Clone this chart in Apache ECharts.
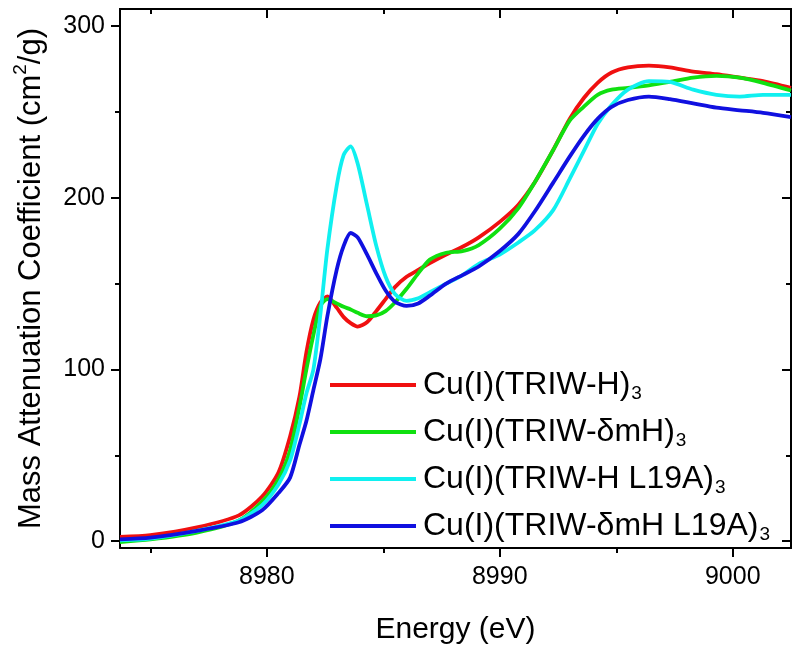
<!DOCTYPE html>
<html>
<head>
<meta charset="utf-8">
<script src="https://cdn.jsdelivr.net/npm/echarts@6/dist/echarts.min.js"></script>
<style>html,body{margin:0;padding:0;background:#fff}#c{width:800px;height:656px}</style>
</head>
<body>
<div id="c"></div>
<script>
var energy = [8973.7, 8975, 8977, 8978.8, 8979.8, 8980.5, 8981, 8981.4, 8981.7, 8982, 8982.3, 8982.6, 8983, 8983.3, 8983.6, 8983.9, 8984.3, 8984.7, 8985.1, 8985.5, 8986, 8986.5, 8987, 8987.7, 8988.4, 8989.1, 8990, 8990.8, 8991.5, 8992.3, 8993, 8993.6, 8994.2, 8994.8, 8995.5, 8996.4, 8997.3, 8998.3, 8999.3, 9000.3, 9001.3, 9002.5];
var triwH = [2.5, 3.5, 8, 15, 26, 40, 61, 84, 110, 129, 139, 142.5, 136, 130.5, 127, 125, 127.5, 134, 141, 148, 154, 158, 162, 167, 171.5, 177, 186, 196, 209, 228, 246, 258, 267, 273, 276, 277, 276, 273.5, 272, 270, 268, 264];
var triwDmH = [-0.5, 1, 5, 12, 23, 36, 53, 78, 100, 120, 137, 141, 138.5, 136.5, 135, 133, 131, 131.5, 134, 139, 147, 156, 164, 168, 169, 172.5, 182, 194, 209, 228, 245, 253, 260, 263, 264, 265.5, 267.5, 270, 271, 270, 267, 262.5];
var triwHL19A = [0.5, 1.5, 6, 12, 21, 33, 47, 68, 86, 100, 132, 170, 207, 225, 230, 220, 196, 172, 154, 144, 140, 141.5, 145, 150, 155, 161.5, 167, 174, 181, 193, 211, 227, 243, 254, 263, 268, 267.5, 263, 260, 259, 260, 260];
var triwDmHL19A = [1, 2, 6, 11, 18, 28, 37, 56, 70, 88, 106, 131, 158, 172, 179.5, 177, 167, 156, 146, 139.5, 137, 138.5, 143, 150, 155, 160, 169, 179, 192, 209, 224, 236, 246, 253, 257, 259, 257.5, 255, 252.5, 251, 249.5, 247];

var seriesNames = ['Cu(I)(TRIW-H)3', 'Cu(I)(TRIW-δmH)3', 'Cu(I)(TRIW-H L19A)3', 'Cu(I)(TRIW-δmH L19A)3'];
var legendMain = ['Cu(I)(TRIW-H)', 'Cu(I)(TRIW-δmH)', 'Cu(I)(TRIW-H L19A)', 'Cu(I)(TRIW-δmH L19A)'];
var seriesColors = ['#f01010', '#10e010', '#10f0f0', '#1010e0'];
var seriesValues = [triwH, triwDmH, triwHL19A, triwDmHL19A];

var xMajor = [8980, 8990, 9000];
var xMinor = [8975, 8985, 8995];
var yMajor = [0, 100, 200, 300];
var yMinor = [50, 150, 250];
var xMin = 8973.7, xMax = 9002.5, yMin = -4, yMax = 310;

var font = 'Liberation Sans, Arial, sans-serif';

function pairs(vals) {
  return energy.map(function (e, i) { return [e, vals[i]]; });
}
function plain(v) { return String(v); }

function xAx(pos, ticks, len, inside, labels) {
  return {
    type: 'value', position: pos, min: xMin, max: xMax,
    axisLine: { show: !!labels || pos === 'top', onZero: false, lineStyle: { color: '#000', width: 2 } },
    axisTick: { show: true, inside: inside, length: len, customValues: ticks, lineStyle: { color: '#000', width: 2 } },
    axisLabel: labels ? { show: true, customValues: labels, formatter: plain, fontSize: 25, color: '#000', fontFamily: font, margin: 17 } : { show: false },
    splitLine: { show: false }
  };
}
function yAx(pos, ticks, len, inside, labels) {
  return {
    type: 'value', position: pos, min: yMin, max: yMax,
    axisLine: { show: !!labels || pos === 'right', onZero: false, lineStyle: { color: '#000', width: 2 } },
    axisTick: { show: true, inside: inside, length: len, customValues: ticks, lineStyle: { color: '#000', width: 2 } },
    axisLabel: labels ? { show: true, customValues: labels, formatter: plain, fontSize: 25, color: '#000', fontFamily: font, margin: 15 } : { show: false },
    splitLine: { show: false }
  };
}

var xAxes = [
  xAx('bottom', xMajor, 9, false, xMajor),
  xAx('bottom', xMinor, 5, false, null),
  xAx('top', xMajor, 9, true, null),
  xAx('top', xMinor, 5, true, null)
];
xAxes[0].name = 'Energy (eV)';
xAxes[0].nameLocation = 'middle';
xAxes[0].nameGap = 64;
xAxes[0].nameTextStyle = { fontSize: 30, lineHeight: 36, color: '#000', fontFamily: font };

var yAxes = [
  yAx('left', yMajor, 9, false, yMajor),
  yAx('left', yMinor, 5, false, null),
  yAx('right', yMajor, 9, true, null),
  yAx('right', yMinor, 5, true, null)
];
yAxes[0].name = '{t|Mass Attenuation Coefficient (cm}{s|2}{t|/g)}';
yAxes[0].nameLocation = 'middle';
yAxes[0].nameGap = 73;
yAxes[0].nameTextStyle = {
  color: '#000', fontFamily: font,
  rich: {
    t: { fontSize: 31, color: '#000', fontFamily: font, lineHeight: 36, verticalAlign: 'bottom' },
    s: { fontSize: 19, color: '#000', fontFamily: font, lineHeight: 36, verticalAlign: 'top', padding: [0, 0, 10, 0] }
  }
};

var series = seriesNames.map(function (n, i) {
  return {
    name: n, type: 'line', xAxisIndex: 0, yAxisIndex: 0,
    data: pairs(seriesValues[i]), showSymbol: false, smooth: 0.25,
    lineStyle: { color: seriesColors[i], width: 3.8 }, itemStyle: { color: seriesColors[i] },
    animation: false
  };
});

var chart = echarts.init(document.getElementById('c'), null, { renderer: 'canvas' });
chart.setOption({
  backgroundColor: '#fff',
  animation: false,
  grid: { left: 120, right: 9, top: 9, bottom: 108, containLabel: false },
  xAxis: xAxes,
  yAxis: yAxes,
  legend: {
    orient: 'vertical', left: 330, top: 366, icon: 'rect',
    itemWidth: 86, itemHeight: 4, itemGap: 10, padding: 0,
    data: seriesNames,
    formatter: function (name) {
      var i = seriesNames.indexOf(name);
      return '{n|' + legendMain[i] + '}{s|3}';
    },
    textStyle: {
      color: '#000', fontFamily: font, fontSize: 32,
      rich: {
        n: { fontSize: 32, color: '#000', fontFamily: font, lineHeight: 36, padding: [0, 0, 0, 2] },
        s: { fontSize: 19, color: '#000', fontFamily: font, lineHeight: 19, verticalAlign: 'bottom', padding: [18, 0, 0, 1] }
      }
    }
  },
  series: series
});
</script>
</body>
</html>
